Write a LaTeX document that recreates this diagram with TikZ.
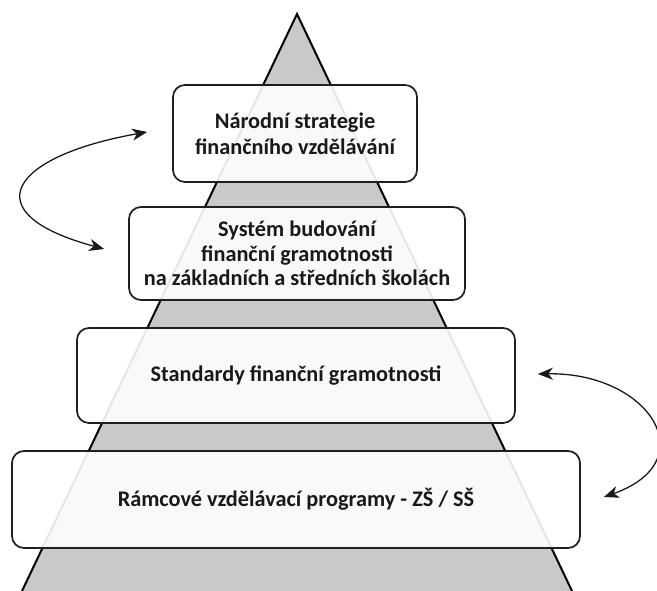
\documentclass[tikz,border=0pt]{standalone}
\usepackage{fontspec}
\setmainfont{Carlito}
\usetikzlibrary{arrows.meta}
\begin{document}
\begin{tikzpicture}[x=1pt,y=1pt,
  box/.style={draw=black!88, line width=1.7pt, rounded corners=12pt, fill=white,
    fill opacity=0.9, text opacity=1, align=center, inner sep=0pt,
    font=\fontsize{22.3}{24.5}\selectfont\bfseries, text=black!90},
  link/.style={line width=1.3pt, black!90, {Stealth[length=15pt,width=12pt,inset=4.5pt]}-{Stealth[length=15pt,width=12pt,inset=4.5pt]}}]
\useasboundingbox (0,0) rectangle (657,-591);
\coordinate (apex) at (297,-14);
\coordinate (bl) at (22,-591);
\coordinate (br) at (572,-591);
\fill[black!21] (bl) -- (apex) -- (br) -- cycle;
\draw[line width=2pt, line join=miter] (bl) -- (apex) -- (br);
\node[box, minimum width=244pt, minimum height=97pt,
  font=\fontsize{22.3}{26}\selectfont\bfseries] (b1) at (295,-133.5)
  {Národní strategie\\finančního vzdělávání};
\node[box, minimum width=336pt, minimum height=93pt] (b2) at (297,-253.5)
  {Systém budování\\finanční gramotnosti\\na základních a středních školách};
\node[box, minimum width=438pt, minimum height=95pt] (b3) at (296,-375.5)
  {Standardy finanční gramotnosti};
\node[box, minimum width=568pt, minimum height=97pt] (b4) at (296,-499.5)
  {Rámcové vzdělávací programy - ZŠ / SŠ};
\coordinate (l1) at ([shift={(-25,1.5)}]b1.west);
\coordinate (l2) at ([shift={(-24,4.5)}]b2.west);
\coordinate (r1) at ([shift={(22,1.5)}]b3.east);
\coordinate (r2) at ([shift={(23,2.5)}]b4.east);
\draw[link] (l1) .. controls (11,-156) and (-29,-213) .. (l2);
\draw[link] (r1) .. controls (649,-372) and (706,-461) .. (r2);
\end{tikzpicture}
\end{document}
